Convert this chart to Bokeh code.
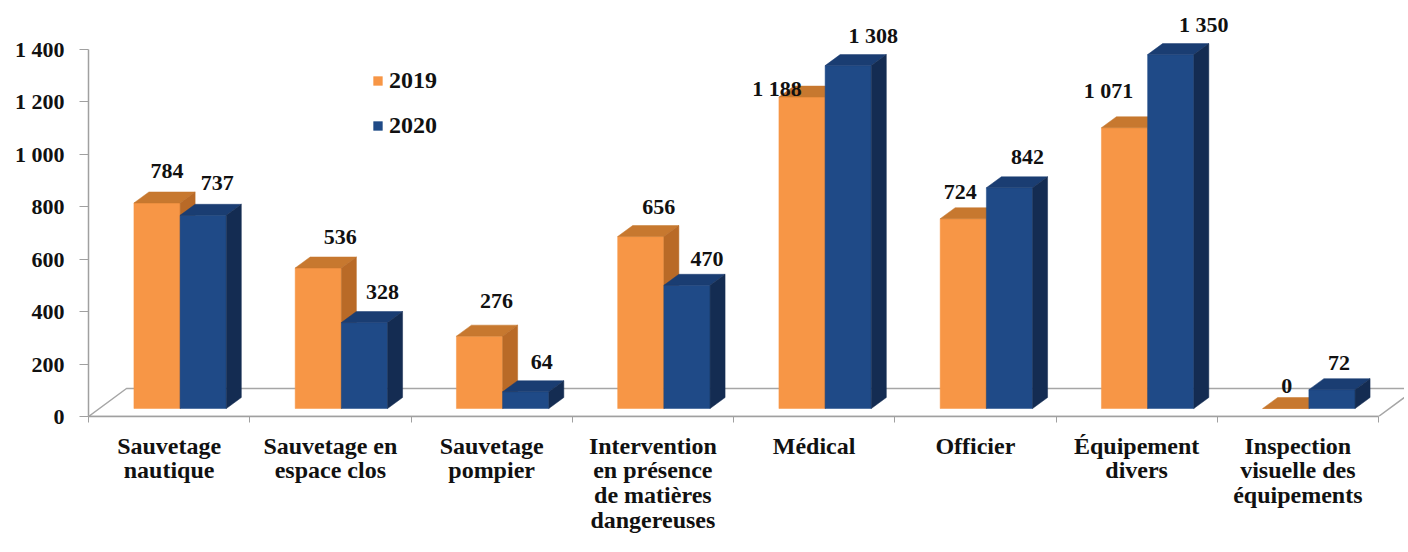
from bokeh.plotting import figure
from bokeh.models import Range1d, FixedTicker, Legend, LegendItem
from bokeh.core.properties import value
from bokeh.embed import file_html
from bokeh.resources import INLINE

# ---------------- data ----------------
categories = [
    "Sauvetage\nnautique",
    "Sauvetage en\nespace clos",
    "Sauvetage\npompier",
    "Intervention\nen présence\nde matières\ndangereuses",
    "Médical",
    "Officier",
    "Équipement\ndivers",
    "Inspection\nvisuelle des\néquipements",
]
v2019 = [784, 536, 276, 656, 1188, 724, 1071, 0]
v2020 = [737, 328, 64, 470, 1308, 842, 1350, 72]
years = ["2019", "2020"]
y_ticks = [0, 200, 400, 600, 800, 1000, 1200, 1400]
y_tick_labels = ["0", "200", "400", "600", "800", "1 000", "1 200", "1 400"]

# label nudges (screen px) relative to bar top, as placed in the original
lbl_dx_2019 = [10, 22, 17, 18, -25, -3, -16, 1]
lbl_dy_2019 = [-21, -20, -24, -19, 2, -16, -26, -12]
lbl_dx_2020 = [14, 18, 16, 20, 25, 18, 33, 7]
lbl_dy_2020 = [-21, -20, -19, -15, -19, -20, -19, -16]

# ---------------- layout ----------------
W, H = 1404, 544
LEFT, BOTTOM = 88, 128
CAT_PX = 161.25          # px per category
YK = 0.26214             # px per unit
x_end = (W - LEFT) / CAT_PX
y_end = (H - BOTTOM) / YK

def ux(px):
    return px / CAT_PX

def uy(px):
    return px / YK

FLOOR_DX, FLOOR_DY = ux(38), uy(28)
FRONT_DX, FRONT_DY = ux(11), uy(8)
DEPTH_DX, DEPTH_DY = ux(15), uy(11)
BAR_W = ux(46.2)

FONT = "Liberation Serif"
n = len(categories)

p = figure(width=W, height=H, output_backend="svg", toolbar_location=None,
           x_range=Range1d(0, x_end), y_range=Range1d(0, y_end),
           min_border_left=LEFT, min_border_right=0, min_border_top=0,
           min_border_bottom=BOTTOM)
p.outline_line_color = None
p.xgrid.visible = False
p.ygrid.visible = False
p.background_fill_color = "white"

# floor
p.patch([0, n, n + FLOOR_DX, FLOOR_DX], [0, 0, FLOOR_DY, FLOOR_DY],
        fill_color="white", line_color="#a6a6a6", line_width=1.5)

def bar_faces(vals, offset):
    fronts_x, fronts_y, tops_x, tops_y, sides_x, sides_y = [], [], [], [], [], []
    for i, v in enumerate(vals):
        x0 = i + 0.5 + FRONT_DX + offset * BAR_W
        x1 = x0 + BAR_W
        y0 = FRONT_DY
        y1 = FRONT_DY + v
        fronts_x.append([x0, x1, x1, x0]); fronts_y.append([y0, y0, y1, y1])
        tops_x.append([x0, x1, x1 + DEPTH_DX, x0 + DEPTH_DX])
        tops_y.append([y1, y1, y1 + DEPTH_DY, y1 + DEPTH_DY])
        sides_x.append([x1, x1 + DEPTH_DX, x1 + DEPTH_DX, x1])
        sides_y.append([y0, y0 + DEPTH_DY, y1 + DEPTH_DY, y1])
    return fronts_x, fronts_y, tops_x, tops_y, sides_x, sides_y

series = [
    (v2019, -1, "#f79646", "#c7782f", "#b96a27", lbl_dx_2019, lbl_dy_2019),
    (v2020, 0, "#1f4a87", "#1a3d72", "#142c52", lbl_dx_2020, lbl_dy_2020),
]
legend_rs = []
for vals, off, cf, ct, cs, ldx, ldy in series:
    fx, fy, tx, ty, sx, sy = bar_faces(vals, off)
    rf = p.patches(fx, fy, fill_color=cf, line_color=cf, line_width=0.5)
    p.patches(tx, ty, fill_color=ct, line_color=ct, line_width=0.5)
    p.patches(sx, sy, fill_color=cs, line_color=cs, line_width=0.5)
    legend_rs.append(rf)
    lx = [i + 0.5 + FRONT_DX + off * BAR_W + BAR_W / 2 for i in range(n)]
    ly = [FRONT_DY + v + DEPTH_DY for v in vals]
    labels = [f"{v:,}".replace(",", " ") for v in vals]
    p.text(x=lx, y=ly, text=labels, x_offset=ldx, y_offset=ldy,
           text_align="center", text_baseline="middle",
           text_font=value(FONT), text_font_style="bold",
           text_font_size="22px", text_color="#111111")

# y axis
ya = p.yaxis[0]
ya.ticker = FixedTicker(ticks=y_ticks, minor_ticks=[])
ya.major_label_overrides = {t: l for t, l in zip(y_ticks, y_tick_labels)}
ya.bounds = (0, 1400)
ya.axis_line_color = "#a0a0a0"
ya.axis_line_width = 1.5
ya.major_tick_line_color = "#a0a0a0"
ya.major_tick_out = 9
ya.major_tick_in = 0
ya.minor_tick_line_color = None
ya.major_label_standoff = 15
ya.major_label_text_font = FONT
ya.major_label_text_font_style = "bold"
ya.major_label_text_font_size = "22px"
ya.major_label_text_color = "#111111"

# x axis
xa = p.xaxis[0]
centers = [i + 0.5 for i in range(n)]
xa.ticker = FixedTicker(ticks=centers, minor_ticks=list(range(n + 1)))
xa.major_label_overrides = {c: lab for c, lab in zip(centers, categories)}
xa.bounds = (0, n)
xa.axis_line_color = "#a0a0a0"
xa.axis_line_width = 1.5
xa.major_tick_line_color = None
xa.major_tick_out = 0
xa.major_tick_in = 0
xa.minor_tick_line_color = "#a0a0a0"
xa.minor_tick_out = 6
xa.minor_tick_in = 0
xa.major_label_standoff = 10
xa.major_label_text_font = FONT
xa.major_label_text_font_style = "bold"
xa.major_label_text_font_size = "24px"
xa.major_label_text_line_height = 0.95
xa.major_label_text_color = "#111111"
xa.major_label_text_align = "center"

legend = Legend(items=[LegendItem(label=years[0], renderers=[legend_rs[0]]),
                       LegendItem(label=years[1], renderers=[legend_rs[1]])],
                location=(284, 277))
legend.border_line_color = None
legend.background_fill_alpha = 0
legend.padding = 0
legend.margin = 0
legend.glyph_width = 11
legend.glyph_height = 11
legend.label_height = 26
legend.spacing = 18
legend.label_standoff = 6
legend.label_text_font = FONT
legend.label_text_font_style = "bold"
legend.label_text_font_size = "24px"
legend.label_text_color = "#111111"
p.add_layout(legend, "center")

open("out.html", "w").write(file_html(p, INLINE))
